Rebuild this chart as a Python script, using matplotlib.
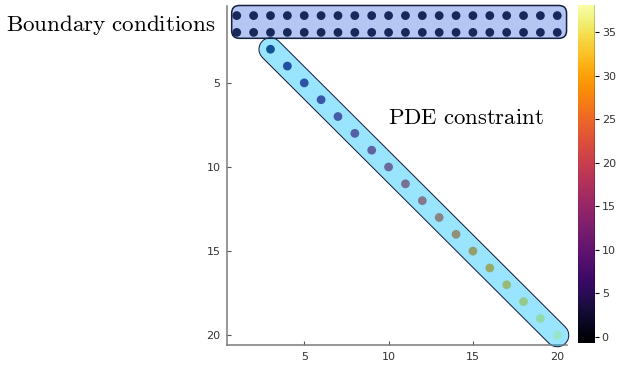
import numpy as np
import matplotlib.pyplot as plt
from matplotlib.patches import FancyBboxPatch
from matplotlib.colors import Normalize, to_rgba

plt.rcParams['mathtext.fontset'] = 'cm'

# sparsity pattern: two boundary rows + PDE diagonal
n = 20
bc_rows = [1, 2]
bc_value = 0.0
diag_idx = list(range(3, 21))
diag_values = [4, 6, 8, 10, 12, 14, 16, 18, 20, 22, 24, 26, 28, 30, 32, 34, 36, 38]
clim = (-0.7, 38.1)
cbar_ticks = [0, 5, 10, 15, 20, 25, 30, 35]
axis_ticks = [5, 10, 15, 20]

rows, cols, vals = [], [], []
for r in bc_rows:
    for c in range(1, n + 1):
        rows.append(r)
        cols.append(c)
        vals.append(bc_value)
for i, v in zip(diag_idx, diag_values):
    rows.append(i)
    cols.append(i)
    vals.append(v)

fig = plt.figure(figsize=(6.17, 3.65), dpi=100)
ax = fig.add_axes([0.3684, 0.0548, 0.5501, 0.9292])
cax = fig.add_axes([0.937, 0.06, 0.027, 0.926])

norm = Normalize(*clim)
sc = ax.scatter(cols, rows, c=vals, cmap='inferno', norm=norm, s=40,
                linewidths=0, zorder=3)

# PDE band: outline + white underlay, then translucent fill over dots
band_x = [diag_idx[0], diag_idx[-1]]
band_w = 15.8
ax.plot(band_x, band_x, color='#14203f', lw=band_w + 1.6,
        solid_capstyle='round', zorder=1, clip_on=False)
ax.plot(band_x, band_x, color='white', lw=band_w,
        solid_capstyle='round', zorder=2, clip_on=False)
ax.plot(band_x, band_x, color='deepskyblue', alpha=0.4, lw=band_w,
        solid_capstyle='round', zorder=4, clip_on=False)

# boundary box
box = FancyBboxPatch((0.7, 0.4), 19.85, 1.95,
                     boxstyle='round,pad=0,rounding_size=0.45',
                     facecolor=to_rgba('royalblue', 0.38),
                     edgecolor='#14203f', lw=1.1, zorder=4, clip_on=False)
ax.add_patch(box)

ax.text(-0.25, 1.55, r'$\mathrm{Boundary\ conditions}$', ha='right',
        va='center', fontsize=16.6, clip_on=False)
ax.text(9.95, 7.05, r'$\mathrm{PDE\ constraint}$', ha='left',
        va='center', fontsize=16.4)

ax.set_xlim(0.44, 20.56)
ax.set_ylim(20.58, 0.42)
ax.set_xticks(axis_ticks)
ax.set_yticks(axis_ticks)
for s in ['top', 'right']:
    ax.spines[s].set_visible(False)
for s in ['left', 'bottom']:
    ax.spines[s].set_color('#7a7a7a')
    ax.spines[s].set_linewidth(1.1)
ax.tick_params(direction='in', length=3, width=0.8, color='#555555',
               labelsize=8, labelcolor='#333333', pad=5)

cb = fig.colorbar(sc, cax=cax, ticks=cbar_ticks)
cb.outline.set_visible(False)
cax.axvline(1.0, color='black', lw=1.0)
cax.tick_params(direction='out', length=3, width=0.8, labelsize=8,
                labelcolor='#333333', pad=2)

fig.savefig('out.png', dpi=100)
